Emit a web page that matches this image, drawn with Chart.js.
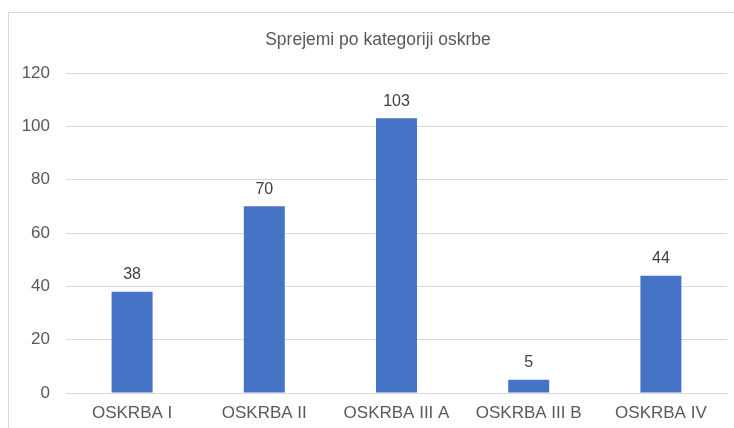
<!DOCTYPE html>
<html>
<head>
<meta charset="utf-8">
<script src="https://cdn.jsdelivr.net/npm/chart.js@4/dist/chart.umd.min.js"></script>
<style>
  html, body { margin: 0; padding: 0; background: #ffffff; overflow: hidden; }
  #frame { position: absolute; left: 8px; top: 12px; width: 760px; height: 440px; border: 1px solid #d9d9d9; box-sizing: border-box; }
  #wrap { position: absolute; left: 0; top: 0; width: 734px; height: 428px; }
</style>
</head>
<body>
<div id="frame"></div>
<div id="wrap"><canvas id="c" width="734" height="428"></canvas></div>
<script>
const chartTitle = "Sprejemi po kategoriji oskrbe";
const categories = ["OSKRBA I", "OSKRBA II", "OSKRBA III A", "OSKRBA III B", "OSKRBA IV"];
const admissions = [38, 70, 103, 5, 44];
const yTicks = [0, 20, 40, 60, 80, 100, 120];

const FONT = "'Liberation Sans', Arial, sans-serif";

const dataLabels = {
  id: 'dataLabels',
  afterDatasetsDraw(chart) {
    const ctx = chart.ctx;
    ctx.save();
    ctx.font = "16px " + FONT;
    ctx.fillStyle = "#404040";
    ctx.textAlign = "center";
    ctx.textBaseline = "middle";
    chart.data.datasets.forEach((ds, di) => {
      chart.getDatasetMeta(di).data.forEach((bar, i) => {
        ctx.fillText(String(ds.data[i]), bar.x, bar.y - 17);
      });
    });
    ctx.restore();
  }
};

// centre the title over the framed chart box rather than the canvas
const titleShift = {
  id: 'titleShift',
  afterLayout(chart) {
    if (chart.titleBlock) { chart.titleBlock.left = 29; }
  }
};

new Chart(document.getElementById('c'), {
  type: 'bar',
  data: {
    labels: categories,
    datasets: [{
      data: admissions,
      backgroundColor: '#4472C4',
      borderWidth: 0,
      categoryPercentage: 1.0,
      barPercentage: 0.31
    }]
  },
  options: {
    responsive: false,
    animation: false,
    devicePixelRatio: 1,
    layout: { padding: { left: 0, right: 7, top: 0, bottom: 6 } },
    plugins: {
      legend: { display: false },
      tooltip: { enabled: false },
      title: {
        display: true,
        text: chartTitle,
        color: '#595959',
        font: { family: FONT, size: 17.5, weight: 'normal' },
        padding: { top: 30, bottom: 22 }
      }
    },
    scales: {
      x: {
        afterFit(scale) { scale.height = 29; },
        grid: { display: false, drawTicks: false },
        border: { display: true, color: '#d9d9d9', width: 1 },
        ticks: {
          color: '#595959',
          font: { family: FONT, size: 17 },
          padding: 10,
          maxRotation: 0,
          autoSkip: false
        }
      },
      y: {
        min: 0,
        max: 120,
        afterFit(scale) { scale.width = 66; },
        afterBuildTicks(scale) { scale.ticks = yTicks.map(v => ({ value: v })); },
        grid: { color: '#d9d9d9', drawTicks: false, lineWidth: 1 },
        border: { display: false },
        ticks: {
          color: '#595959',
          font: { family: FONT, size: 17 },
          padding: 16
        }
      }
    }
  },
  plugins: [dataLabels, titleShift]
});
</script>
</body>
</html>
